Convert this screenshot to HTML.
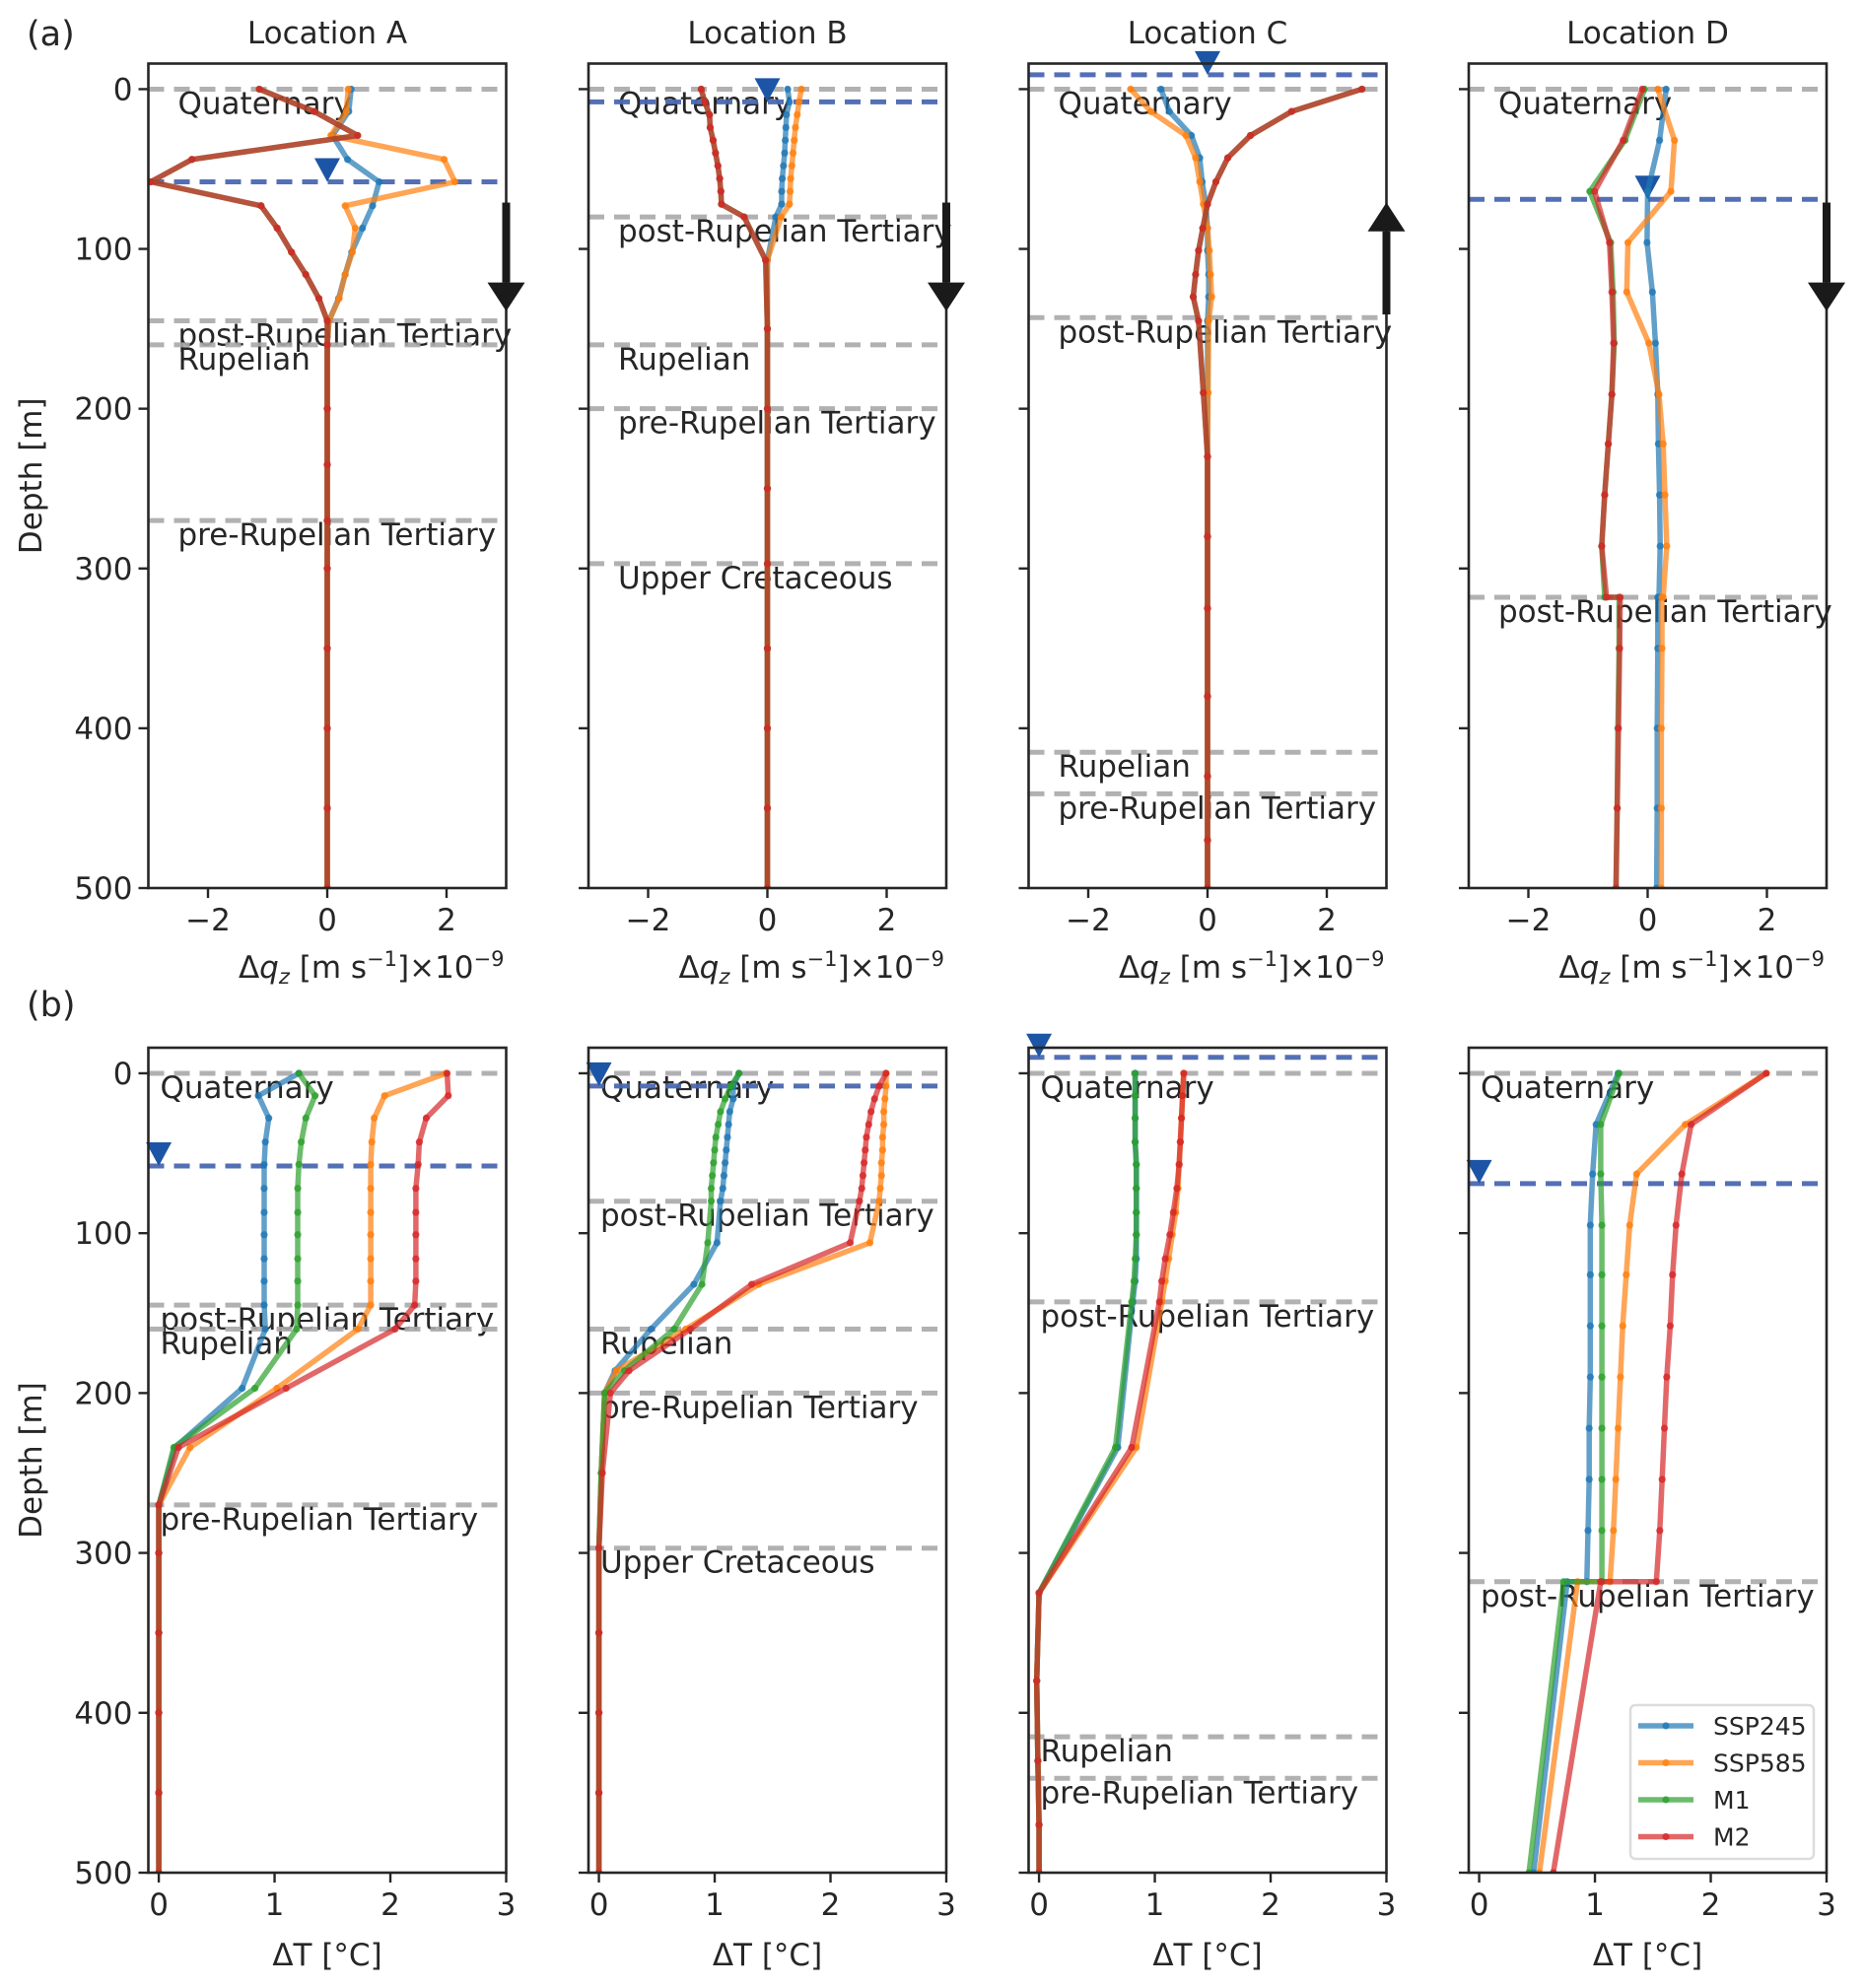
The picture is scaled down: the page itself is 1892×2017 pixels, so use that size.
<!DOCTYPE html>
<html><head><meta charset="utf-8">
<style>
html,body{margin:0;padding:0;background:#fff;}
svg{display:block;font-family:"DejaVu Sans","Liberation Sans",sans-serif;}
</style></head>
<body>
<svg id="fig" width="1892" height="2017" viewBox="0 0 1892 2017" xmlns="http://www.w3.org/2000/svg"></svg>
<script>
// ---------- data ----------
const seriesNames = ["SSP245","SSP585","M1","M2"];
const locNames = ["A","B","C","D"];
// geology boundaries (m) and labels
const layerDepthsA = [0,145,160,270];
const layerNamesA = ["Quaternary","post-Rupelian Tertiary","Rupelian","pre-Rupelian Tertiary"];
const layerDepthsB = [0,80,160,200,297];
const layerNamesB = ["Quaternary","post-Rupelian Tertiary","Rupelian","pre-Rupelian Tertiary","Upper Cretaceous"];
const layerDepthsC = [0,143,415,441];
const layerNamesC = ["Quaternary","post-Rupelian Tertiary","Rupelian","pre-Rupelian Tertiary"];
const layerDepthsD = [0,318];
const layerNamesD = ["Quaternary","post-Rupelian Tertiary"];
const waterTableA = [58,58];
const waterTableB = [8,8];
const waterTableC = [-9,-10];
const waterTableD = [69,69];
const flowDirection = ["down","down","up","down"];
// tick labels
const depthTicks = [0,100,200,300,400,500];
const qTicks = [-2,0,2];
const tTicks = [0,1,2,3];

// ---- row (a): delta qz ----
const qA_depth = [0,14,29,44,58,73,87,102,116,131,145,160,200,235,270,300,350,400,450,500];
const qA_ssp245 = [0.40,0.36,0.09,0.34,0.87,0.76,0.59,0.41,0.30,0.19,0.03,0,0,0,0,0,0,0,0,0];
const qA_ssp585 = [0.35,0.32,0.06,1.96,2.14,0.30,0.47,0.42,0.30,0.20,0.03,0,0,0,0,0,0,0,0,0];
const qA_m1 = [-1.14,-0.22,0.51,-2.27,-2.96,-1.11,-0.84,-0.60,-0.36,-0.14,0,0,0,0,0,0,0,0,0,0];
const qA_m2 = [-1.14,-0.22,0.51,-2.27,-2.96,-1.11,-0.84,-0.60,-0.36,-0.14,0,0,0,0,0,0,0,0,0,0];

const qB_depth = [0,8,16,24,32,40,48,56,64,72,80,107,150,200,250,297,350,400,450,500];
const qB_ssp245 = [0.34,0.37,0.32,0.31,0.30,0.29,0.27,0.25,0.24,0.24,0.14,0,0,0,0,0,0,0,0,0];
const qB_ssp585 = [0.57,0.53,0.50,0.47,0.45,0.43,0.41,0.39,0.38,0.37,0.23,0,0,0,0,0,0,0,0,0];
const qB_m1 = [-1.11,-1.05,-0.97,-0.96,-0.91,-0.87,-0.83,-0.80,-0.78,-0.77,-0.39,-0.03,0,0,0,0,0,0,0,0];
const qB_m2 = [-1.11,-1.05,-0.97,-0.96,-0.91,-0.87,-0.83,-0.80,-0.78,-0.77,-0.39,-0.03,0,0,0,0,0,0,0,0];

const qC_depth = [0,14,29,43,58,72,87,101,116,130,145,190,230,280,325,380,430,470,500];
const qC_ssp245 = [-0.78,-0.64,-0.27,-0.13,-0.09,-0.03,0,0,0.02,0.02,0,0,0,0,0,0,0,0,0];
const qC_ssp585 = [-1.29,-0.95,-0.36,-0.20,-0.13,-0.07,0,0.03,0.05,0.07,0.02,0.01,0,0,0,0,0,0,0];
const qC_m1 = [2.59,1.41,0.72,0.34,0.14,0,-0.08,-0.15,-0.20,-0.24,-0.15,-0.07,0,0,0,0,0,0,0];
const qC_m2 = [2.59,1.41,0.72,0.34,0.14,0,-0.08,-0.15,-0.20,-0.24,-0.15,-0.07,0,0,0,0,0,0,0];

const qD_depth = [0,32,64,96,127,159,191,222,254,286,318,318,350,400,450,500];
const qD_ssp245 = [0.31,0.20,0.0,-0.01,0.08,0.13,0.17,0.18,0.20,0.21,0.19,0.17,0.17,0.16,0.16,0.15];
const qD_ssp585 = [0.17,0.45,0.39,-0.33,-0.35,0.02,0.19,0.26,0.29,0.32,0.26,0.24,0.24,0.23,0.23,0.23];
const qD_m1 = [-0.05,-0.38,-0.97,-0.62,-0.58,-0.56,-0.60,-0.66,-0.72,-0.77,-0.72,-0.48,-0.48,-0.50,-0.51,-0.53];
const qD_m2 = [-0.09,-0.41,-0.89,-0.64,-0.60,-0.57,-0.60,-0.66,-0.72,-0.77,-0.69,-0.46,-0.47,-0.49,-0.51,-0.53];

// ---- row (b): delta T ----
const tA_depth = [0,14,28,43,57,72,87,101,116,130,145,160,197,234,270,300,350,400,450,500];
const tA_ssp245 = [1.21,0.86,0.95,0.92,0.91,0.91,0.91,0.91,0.91,0.91,0.91,0.92,0.72,0.14,0,0,0,0,0,0];
const tA_ssp585 = [2.48,1.95,1.86,1.84,1.83,1.83,1.83,1.83,1.83,1.83,1.83,1.72,1.02,0.27,0,0,0,0,0,0];
const tA_m1 = [1.21,1.35,1.27,1.23,1.21,1.20,1.20,1.20,1.20,1.20,1.20,1.19,0.83,0.13,0,0,0,0,0,0];
const tA_m2 = [2.49,2.50,2.31,2.25,2.24,2.22,2.22,2.22,2.22,2.22,2.21,2.04,1.10,0.17,0,0,0,0,0,0];

const tB_depth = [0,8,16,24,32,40,48,56,64,72,80,106,132,160,186,200,250,297,350,400,450,500];
const tB_ssp245 = [1.21,1.16,1.16,1.13,1.12,1.11,1.10,1.09,1.08,1.07,1.05,1.02,0.82,0.45,0.14,0.05,0.02,0,0,0,0,0];
const tB_ssp585 = [2.48,2.48,2.47,2.46,2.46,2.45,2.45,2.44,2.44,2.43,2.42,2.34,1.38,0.75,0.15,0.05,0.02,0,0,0,0,0];
const tB_m1 = [1.21,1.14,1.09,1.05,1.03,1.01,1.00,0.99,0.98,0.97,0.97,0.94,0.89,0.65,0.22,0.05,0.02,0,0,0,0,0];
const tB_m2 = [2.48,2.42,2.38,2.35,2.33,2.31,2.30,2.29,2.28,2.27,2.25,2.17,1.32,0.79,0.26,0.10,0.03,0,0,0,0,0];

const tC_depth = [0,14,28,43,57,72,87,101,116,130,143,234,325,380,430,470,500];
const tC_ssp245 = [0.83,0.83,0.83,0.83,0.84,0.84,0.84,0.84,0.84,0.83,0.81,0.68,0,-0.02,-0.01,0,0];
const tC_ssp585 = [1.25,1.24,1.23,1.22,1.21,1.20,1.18,1.15,1.12,1.09,1.06,0.84,0,-0.02,-0.01,0,0];
const tC_m1 = [0.83,0.83,0.83,0.83,0.84,0.84,0.84,0.84,0.83,0.82,0.80,0.66,0,-0.02,-0.01,0,0];
const tC_m2 = [1.25,1.24,1.23,1.22,1.21,1.19,1.16,1.13,1.09,1.06,1.04,0.80,0,-0.02,-0.01,0,0];

const tD_depth = [0,32,63,95,126,158,190,222,254,286,318,318,500];
const tD_ssp245 = [1.20,1.01,0.98,0.96,0.96,0.96,0.96,0.95,0.95,0.94,0.93,0.76,0.47];
const tD_ssp585 = [2.48,1.78,1.36,1.30,1.27,1.24,1.22,1.20,1.18,1.16,1.13,0.85,0.52];
const tD_m1 = [1.21,1.05,1.05,1.06,1.06,1.06,1.06,1.06,1.06,1.06,1.06,0.73,0.43];
const tD_m2 = [2.48,1.83,1.75,1.70,1.67,1.65,1.62,1.60,1.58,1.56,1.53,1.05,0.64];

// ---------- layout ----------
const NS = "http://www.w3.org/2000/svg";
const svg = document.getElementById('fig');
const colors = ["#1f77b4","#ff7f0e","#2ca02c","#d62728"];
const panelLefts = [150.5,597,1043.5,1490];
const panelW = 363;
const rowTops = [64.5,1063];
const rowBottoms = [901,1900];
const yMin = -16, yMax = 500;
const xlims = [[-3,3],[-0.09,3]];
const TXT = "#262626";
const FS = 31;

function el(tag, attrs, parent){
  const e = document.createElementNS(NS, tag);
  for (const k in attrs) e.setAttribute(k, attrs[k]);
  (parent||svg).appendChild(e);
  return e;
}
function yScale(row, d){ return rowTops[row] + (d - yMin)/(yMax - yMin)*(rowBottoms[row]-rowTops[row]); }
function xScale(row, col, v){ const [a,b]=xlims[row]; return panelLefts[col] + (v-a)/(b-a)*panelW; }
function fmt(v){ return v<0 ? "\u2212"+Math.abs(v) : String(v); }

const layerDepths = [layerDepthsA,layerDepthsB,layerDepthsC,layerDepthsD];
const layerNames = [layerNamesA,layerNamesB,layerNamesC,layerNamesD];
const waterTables = [waterTableA,waterTableB,waterTableC,waterTableD];
const qData = [
  [qA_depth,[qA_ssp245,qA_ssp585,qA_m1,qA_m2]],
  [qB_depth,[qB_ssp245,qB_ssp585,qB_m1,qB_m2]],
  [qC_depth,[qC_ssp245,qC_ssp585,qC_m1,qC_m2]],
  [qD_depth,[qD_ssp245,qD_ssp585,qD_m1,qD_m2]]];
const tData = [
  [tA_depth,[tA_ssp245,tA_ssp585,tA_m1,tA_m2]],
  [tB_depth,[tB_ssp245,tB_ssp585,tB_m1,tB_m2]],
  [tC_depth,[tC_ssp245,tC_ssp585,tC_m1,tC_m2]],
  [tD_depth,[tD_ssp245,tD_ssp585,tD_m1,tD_m2]]];

// panel labels
let t = el('text',{x:27,y:46,'font-size':35,fill:TXT});
t.textContent = "(a)";


t = el('text',{x:27,y:1031,'font-size':35,fill:TXT});
t.textContent = "(b)";



for (let row=0; row<2; row++){
  for (let col=0; col<4; col++){
    const L = panelLefts[col], R = L+panelW, T = rowTops[row], B = rowBottoms[row];
    const g = el('g',{});
    
    
    const clipId = 'clip'+row+col;
    const cp = el('clipPath',{id:clipId},g);
    el('rect',{x:L,y:T,width:panelW,height:B-T},cp);

    // title
    if (row===0){
      const tt = el('text',{x:(L+R)/2,y:44,'text-anchor':'middle','font-size':FS,fill:TXT},g);
      tt.textContent = "Location  "+locNames[col];
      
      
    }
    // geology lines
    const ld = layerDepths[col], ln = layerNames[col];
    for (let i=0;i<ld.length;i++){
      const yy = yScale(row, ld[i]);
      const ln1 = el('line',{x1:L,x2:R,y1:yy,y2:yy,stroke:'#a9a9ab','stroke-width':5,'stroke-dasharray':'16,10',opacity:0.9},g);
      
      
      const lt = el('text',{x:L+(row===0?30:12),y:yy+25,'font-size':FS,fill:TXT},g);
      lt.textContent = ln[i];
      
      
    }
    // water table
    const wy = yScale(row, waterTables[col][row]);
    const wl = el('line',{x1:L,x2:R,y1:wy,y2:wy,stroke:'#4a68b2','stroke-width':5,'stroke-dasharray':'16,10',opacity:0.95},g);
    
    
    const wx = xScale(row,col,0);
    const tri = el('polygon',{points:(wx-13)+','+(wy-24)+' '+(wx+13)+','+(wy-24)+' '+wx+','+wy,fill:'#1c55a6'},g);
    
    

    // series
    const [depths, vals] = row===0 ? qData[col] : tData[col];
    const sg = el('g',{'clip-path':'url(#'+clipId+')'},g);
    for (let s=0;s<4;s++){
      const pts = depths.map((d,i)=>xScale(row,col,vals[s][i]).toFixed(1)+','+yScale(row,d).toFixed(1)).join(' ');
      const pl = el('polyline',{points:pts,fill:'none',stroke:colors[s],'stroke-width':5.5,'stroke-opacity':0.7,'stroke-linejoin':'round','stroke-linecap':'round'},sg);
      
      
      depths.forEach((d,i)=>{
        const c = el('circle',{cx:xScale(row,col,vals[s][i]),cy:yScale(row,d),r:3.6,fill:colors[s],'fill-opacity':0.8},sg);
        
        
      });
    }

    // frame
    const fr = el('rect',{x:L,y:T,width:panelW,height:B-T,fill:'none',stroke:'#262626','stroke-width':2.6},g);
    
    

    // y ticks
    depthTicks.forEach(d=>{
      const yy = yScale(row,d);
      el('line',{x1:L-10,x2:L,y1:yy,y2:yy,stroke:'#262626','stroke-width':2.4},g);
      if (col===0){
        const yt = el('text',{x:L-16,y:yy+11,'text-anchor':'end','font-size':FS,fill:TXT},g);
        yt.textContent = String(d);
        
        
      }
    });
    // x ticks
    const xt = row===0 ? qTicks : tTicks;
    xt.forEach(v=>{
      const xx = xScale(row,col,v);
      el('line',{x1:xx,x2:xx,y1:B,y2:B+10,stroke:'#262626','stroke-width':2.4},g);
      const tl = el('text',{x:xx,y:B+43,'text-anchor':'middle','font-size':FS,fill:TXT},g);
      tl.textContent = fmt(v);
      
      
    });
    // x label
    if (row===0){
      const xl = el('text',{x:R-2,y:B+91,'text-anchor':'end','font-size':FS,fill:TXT},g);
      xl.innerHTML = 'Δ<tspan font-style="italic">q</tspan><tspan font-style="italic" font-size="21" dy="6">z</tspan><tspan dy="-6"> [m s</tspan><tspan font-size="21" dy="-12">−1</tspan><tspan dy="12">]×10</tspan><tspan font-size="21" dy="-12">−9</tspan>';
      
      
    } else {
      const xl = el('text',{x:(L+R)/2,y:B+94,'text-anchor':'middle','font-size':FS,fill:TXT},g);
      xl.textContent = 'ΔT [°C]';
      
      
    }
    // y label
    if (col===0){
      const cy = (T+B)/2;
      const yl = el('text',{x:42,y:cy,'text-anchor':'middle','font-size':FS,fill:TXT,transform:'rotate(-90 42 '+cy+')'},g);
      yl.textContent = 'Depth [m]';
      
      
    }
    // flow arrow
    if (row===0){
      const ag = el('g',{fill:'#1a1a1a'},g);
      
      
      if (flowDirection[col]==='down'){
        const y1=yScale(0,71), y2=yScale(0,121), y3=yScale(0,139);
        el('rect',{x:R-4,y:y1,width:8,height:y2-y1},ag);
        el('polygon',{points:(R-19)+','+y2+' '+(R+19)+','+y2+' '+R+','+y3},ag);
      } else {
        const y1=yScale(0,71), y2=yScale(0,89), y3=yScale(0,141);
        el('polygon',{points:(R-19)+','+y2+' '+(R+19)+','+y2+' '+R+','+y1},ag);
        el('rect',{x:R-4,y:y2,width:8,height:y3-y2},ag);
      }
    }
  }
}

// legend (panel b, location D)
const lg = el('g',{});


el('rect',{x:1654,y:1730,width:186,height:156,rx:5,fill:'#fff','fill-opacity':0.85,stroke:'#dcdcdc','stroke-width':2.5},lg);
seriesNames.forEach((n,i)=>{
  const yy = 1751 + i*37.5;
  const eg = el('g',{},lg);
  
  
  el('line',{x1:1662,x2:1718,y1:yy,y2:yy,stroke:colors[i],'stroke-width':5.5,'stroke-opacity':0.7},eg);
  el('circle',{cx:1690,cy:yy,r:3.6,fill:colors[i],'fill-opacity':0.8},eg);
  const lt = el('text',{x:1738,y:yy+9,'font-size':25,fill:TXT},eg);
  lt.textContent = n;
});
</script>
</body></html>
